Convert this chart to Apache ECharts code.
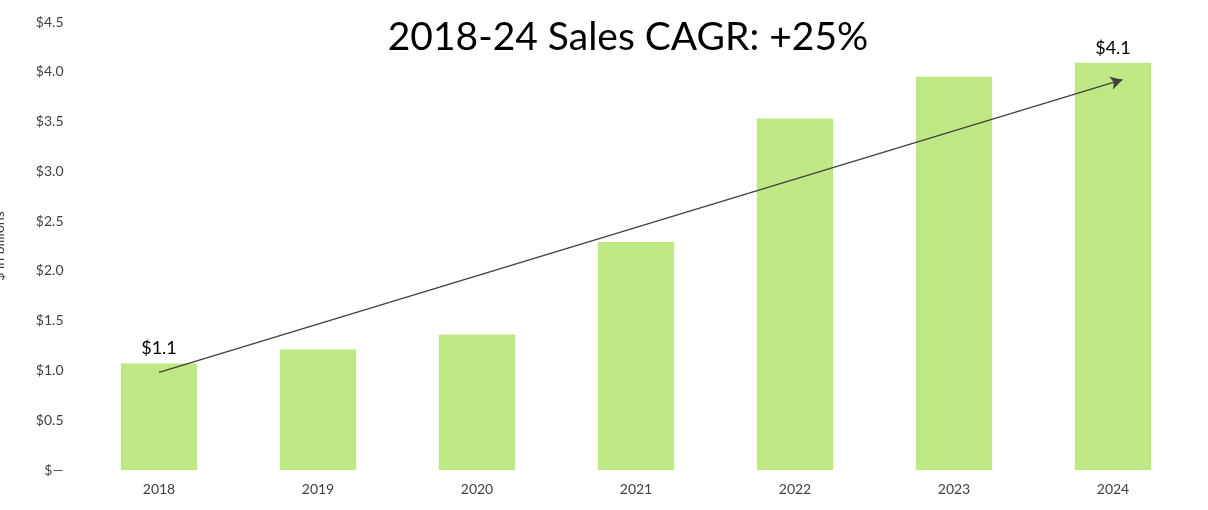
<!DOCTYPE html>
<html><head><meta charset="utf-8">
<script src="https://cdn.jsdelivr.net/npm/echarts@6/dist/echarts.min.js"></script>
<style>html,body{margin:0;padding:0;background:#fff}#c{width:1208px;height:510px}</style>
</head><body><div id="c"></div>
<script>
const categories = ['2018','2019','2020','2021','2022','2023','2024'];
const sales = [1.07, 1.21, 1.36, 2.29, 3.53, 3.95, 4.09];
const labelText = ['$1.1','','','','','','$4.1'];
const arrowStart = [0, 0.98];
const arrowEnd = [6.06, 3.92];
const titleText = '2018-24 Sales CAGR: +25%';
const yName = '$ in billions';

const font = 'Lato, "Open Sans", sans-serif';
const chart = echarts.init(document.getElementById('c'));
chart.setOption({
  animation: false,
  title: { text: titleText, left: 623, textAlign: 'center', top: 13,
    textStyle: { fontFamily: font, fontSize: 39, fontWeight: 'normal', color: '#000' } },
  grid: { left: 79.5, right: 15.5, top: 22, bottom: 40, containLabel: false, outerBoundsMode: 'none' },
  xAxis: [
    { type: 'category', data: categories, axisLine: { show: false }, axisTick: { show: false },
      axisLabel: { fontFamily: font, fontSize: 14, color: '#404040', margin: 12 } },
    { type: 'value', min: -0.5, max: 6.5, show: false }
  ],
  yAxis: { type: 'value', min: 0, max: 4.5, interval: 0.5,
    name: yName, nameLocation: 'middle', nameGap: 73,
    nameTextStyle: { fontFamily: font, fontSize: 14, color: '#404040' },
    axisLine: { show: false }, axisTick: { show: false }, splitLine: { show: false },
    axisLabel: { fontFamily: font, fontSize: 14, color: '#404040', margin: 16,
      formatter: v => v === 0 ? '$\u2014' : '$' + v.toFixed(1) } },
  series: [
    { type: 'bar', data: sales, barWidth: '48%', itemStyle: { color: '#bfe784' },
      label: { show: true, position: 'top', distance: 6, fontFamily: font, fontSize: 18, color: '#000',
        formatter: p => labelText[p.dataIndex] } },
    { type: 'line', xAxisIndex: 1, data: [arrowStart, arrowEnd], symbol: 'none',
      lineStyle: { opacity: 0 },
      markLine: { silent: true, symbol: ['none', 'arrow'], symbolSize: [10, 12],
        lineStyle: { color: '#404040', width: 1.3, type: 'solid' }, label: { show: false },
        data: [[{ coord: arrowStart }, { coord: arrowEnd }]] } }
  ]
});
</script></body></html>
